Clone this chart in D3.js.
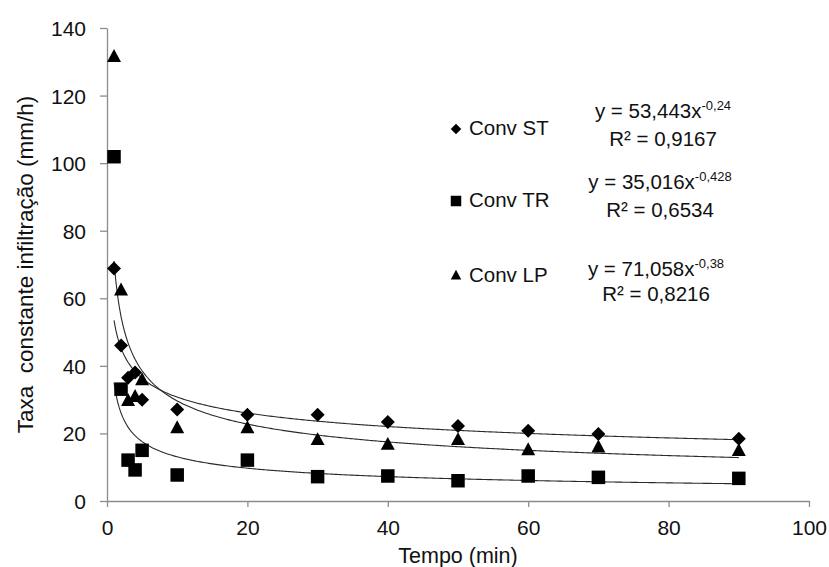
<!DOCTYPE html>
<html>
<head>
<meta charset="utf-8">
<script src="https://cdn.jsdelivr.net/npm/d3@7"></script>
<style>
  html, body { margin: 0; padding: 0; background: #fff; }
  svg { display: block; font-family: "Liberation Sans", Arial, sans-serif; }
</style>
</head>
<body>
<svg id="chart" width="829" height="567"></svg>
<script>
// ---- data ----
const times = [1, 2, 3, 4, 5, 10, 20, 30, 40, 50, 60, 70, 90];
const convST = [68.8, 46.0, 36.5, 38.0, 30.0, 27.1, 25.5, 25.5, 23.4, 22.2, 20.8, 19.8, 18.4];
const convTR = [101.9, 33.1, 12.1, 9.2, 15.0, 7.7, 12.1, 7.2, 7.4, 6.0, 7.4, 7.0, 6.7];
const convLP = [131.7, 62.6, 29.9, 31.1, 36.0, 21.8, 21.8, 18.3, 16.9, 18.3, 15.3, 16.1, 15.1];
const seriesNames = ["Conv ST", "Conv TR", "Conv LP"];
const fitA = [53.443, 35.016, 71.058];
const fitB = [-0.24, -0.428, -0.38];
const eqTexts = ["y = 53,443x", "y = 35,016x", "y = 71,058x"];
const eqExps = ["-0,24", "-0,428", "-0,38"];
const r2Texts = ["R² = 0,9167", "R² = 0,6534", "R² = 0,8216"];
const xTicks = [0, 20, 40, 60, 80, 100];
const yTicks = [0, 20, 40, 60, 80, 100, 120, 140];
const xTitle = "Tempo (min)";
const yTitle = "Taxa  constante infiltração (mm/h)";

// ---- layout ----
const svg = d3.select("#chart");
const x = d3.scaleLinear().domain([0, 100]).range([107, 809]);
const y = d3.scaleLinear().domain([0, 140]).range([501, 28]);
const axisColor = "#8c8c8c";
const fs = 20.5;
const tickFs = 21;

// axes
const xAxis = svg.append("g").attr("transform", `translate(0,${y(0)})`)
  .call(d3.axisBottom(x).tickValues(xTicks).tickSize(6).tickPadding(13).tickSizeOuter(0));
const yAxis = svg.append("g").attr("transform", `translate(${x(0)},0)`)
  .call(d3.axisLeft(y).tickValues(yTicks).tickSize(7).tickPadding(14).tickSizeOuter(0));
[xAxis, yAxis].forEach(a => {
  a.select(".domain").attr("stroke", axisColor).attr("stroke-width", 1.3);
  a.selectAll(".tick line").attr("stroke", axisColor).attr("stroke-width", 1.3);
  a.selectAll(".tick text").attr("fill", "#111").attr("font-size", tickFs)
    .attr("font-family", "Liberation Sans, Arial, sans-serif");
});
yAxis.selectAll(".tick text").attr("dy", "0.36em");

// axis titles
svg.append("text").attr("x", x(50)).attr("y", 563).attr("text-anchor", "middle")
  .attr("font-size", 21.5).attr("fill", "#111").text(xTitle);
svg.append("text").attr("transform", `translate(33,${(y(0) + y(140)) / 2}) rotate(-90)`)
  .attr("text-anchor", "middle").attr("font-size", 22.5).attr("fill", "#111")
  .style("white-space", "pre").text(yTitle);

// marker shapes
function markerPath(kind, s) {
  const h = s / 2;
  if (kind === 0) return `M0,${-h}L${h},0L0,${h}L${-h},0Z`;
  if (kind === 1) return `M${-h},${-h}H${h}V${h}H${-h}Z`;
  return `M0,${-h}L${h},${h * 0.85}L${-h},${h * 0.85}Z`;
}

// trend lines
const fitXs = d3.range(1, 90.01, 0.25);
const line = d3.line().x(d => x(d[0])).y(d => y(d[1]));
fitA.forEach((a, i) => {
  svg.append("path")
    .datum(fitXs.map(t => [t, a * Math.pow(t, fitB[i])]))
    .attr("d", line).attr("fill", "none").attr("stroke", "#2a2a2a").attr("stroke-width", 1.1);
});

// points
const allSeries = [convST, convTR, convLP];
const sizes = [14, 13.5, 14];
allSeries.forEach((vals, i) => {
  svg.append("g").selectAll("path").data(vals).join("path")
    .attr("transform", (v, j) => `translate(${x(times[j])},${y(v)})`)
    .attr("d", markerPath(i, sizes[i])).attr("fill", "#000");
});

// legend
const legY = [129, 201, 275];
const legBase = [135, 207, 282];
const eqBase = [118, 189, 275.5];
const r2Base = [146, 217, 301];
const eqCx = [663, 660, 656];
seriesNames.forEach((n, i) => {
  svg.append("path").attr("transform", `translate(456,${legY[i]})`)
    .attr("d", markerPath(i, 10.5)).attr("fill", "#000");
  svg.append("text").attr("x", 469).attr("y", legBase[i]).attr("font-size", fs)
    .attr("fill", "#111").text(n);
  const t = svg.append("text").attr("x", eqCx[i]).attr("y", eqBase[i])
    .attr("text-anchor", "middle").attr("font-size", fs).attr("fill", "#111");
  t.append("tspan").text(eqTexts[i]);
  t.append("tspan").attr("dy", -8).attr("font-size", 13).text(eqExps[i]);
  svg.append("text").attr("x", eqCx[i]).attr("y", r2Base[i])
    .attr("text-anchor", "middle").attr("font-size", fs).attr("fill", "#111").text(r2Texts[i]);
});
</script>
</body>
</html>
